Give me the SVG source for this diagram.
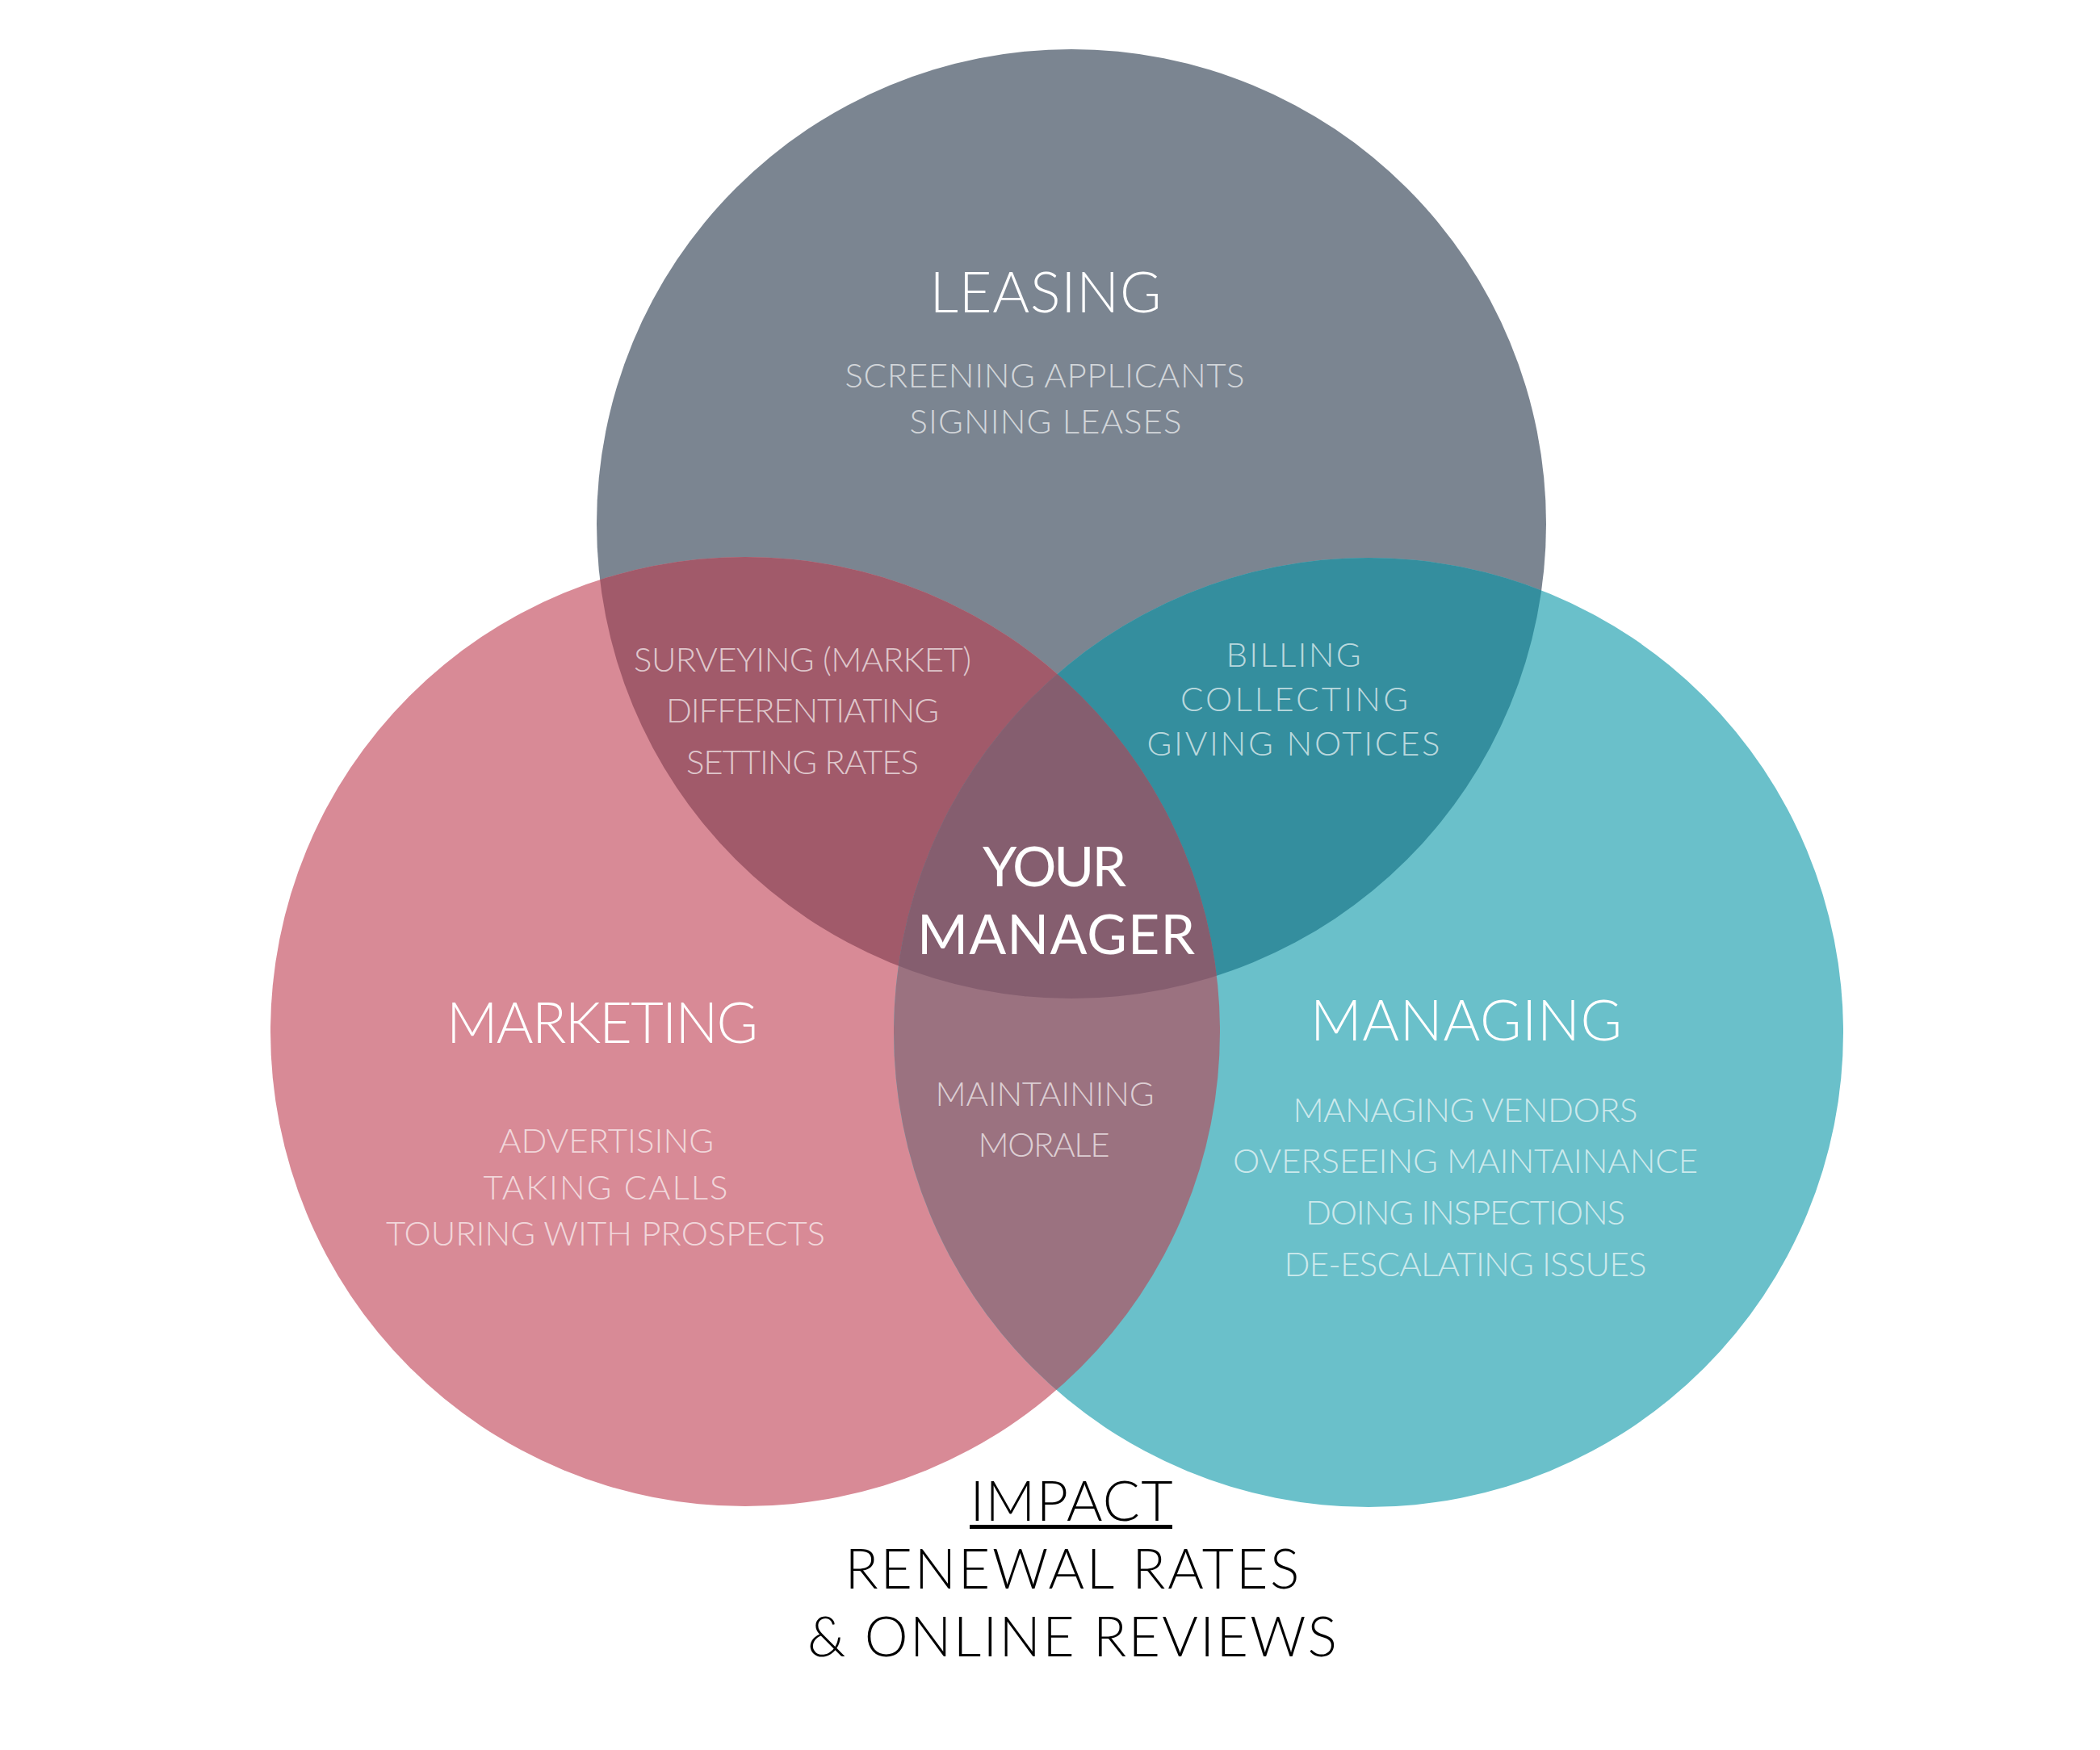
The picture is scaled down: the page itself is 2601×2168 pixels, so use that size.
<svg xmlns="http://www.w3.org/2000/svg" width="2601" height="2168" viewBox="0 0 2601 2168">
<defs>
<clipPath id="clipTop"><circle cx="1327" cy="649" r="588"/></clipPath>
<clipPath id="clipLeft"><circle cx="923" cy="1278" r="588"/></clipPath>
<style>
text{font-family:Lato,"Open Sans","DejaVu Sans",sans-serif;text-anchor:middle}
.head{fill:#ffffff;font-size:70px;font-weight:300}
.sub{fill:#ffffff;fill-opacity:0.68;font-size:42px;font-weight:300}
.core{fill:#ffffff;font-size:68px;font-weight:400}
.impact{fill:#000000;font-size:68px;font-weight:300}
</style>
</defs>
<rect width="2601" height="2168" fill="#ffffff"/>
<g id="circles">
<circle id="leasing-circle" cx="1327" cy="649" r="588" fill="#7b8591"/>
<circle id="marketing-circle" cx="923" cy="1278" r="588" fill="#d88a96"/>
<circle id="managing-circle" cx="1695" cy="1279" r="588" fill="#6ac0ca"/>
<circle cx="923" cy="1278" r="588" fill="#a15a6a" clip-path="url(#clipTop)"/>
<circle cx="1695" cy="1279" r="588" fill="#348e9e" clip-path="url(#clipTop)"/>
<circle cx="1695" cy="1279" r="588" fill="#9b7280" clip-path="url(#clipLeft)"/>
<g clip-path="url(#clipTop)"><circle cx="1695" cy="1279" r="588" fill="#855e6f" clip-path="url(#clipLeft)"/></g>
</g>
<g id="connectors"/>
<g id="leasing">
<text class="head" x="1295" y="387" textLength="287" lengthAdjust="spacing">LEASING</text>
<text class="sub" x="1294" y="480" textLength="495" lengthAdjust="spacing">SCREENING APPLICANTS</text>
<text class="sub" x="1295" y="537" textLength="337" lengthAdjust="spacing">SIGNING LEASES</text>
</g>
<g id="leasing-marketing">
<text class="sub" x="994" y="832" textLength="418" lengthAdjust="spacing">SURVEYING (MARKET)</text>
<text class="sub" x="994" y="895" textLength="338" lengthAdjust="spacing">DIFFERENTIATING</text>
<text class="sub" x="994" y="959" textLength="288" lengthAdjust="spacing">SETTING RATES</text>
</g>
<g id="leasing-managing">
<text class="sub" x="1602" y="826" textLength="167" lengthAdjust="spacing">BILLING</text>
<text class="sub" x="1603" y="881" textLength="282" lengthAdjust="spacing">COLLECTING</text>
<text class="sub" x="1602" y="936" textLength="363" lengthAdjust="spacing">GIVING NOTICES</text>
</g>
<g id="your-manager">
<text class="core" x="1306" y="1098" textLength="178" lengthAdjust="spacing">YOUR</text>
<text class="core" x="1308" y="1182" textLength="344" lengthAdjust="spacing">MANAGER</text>
</g>
<g id="marketing">
<text class="head" x="746" y="1292" textLength="386" lengthAdjust="spacing">MARKETING</text>
<text class="sub" x="751" y="1428" textLength="266" lengthAdjust="spacing">ADVERTISING</text>
<text class="sub" x="750" y="1486" textLength="303" lengthAdjust="spacing">TAKING CALLS</text>
<text class="sub" x="750" y="1543" textLength="544" lengthAdjust="spacing">TOURING WITH PROSPECTS</text>
</g>
<g id="managing">
<text class="head" x="1816" y="1289" textLength="386" lengthAdjust="spacing">MANAGING</text>
<text class="sub" x="1815" y="1390" textLength="427" lengthAdjust="spacing">MANAGING VENDORS</text>
<text class="sub" x="1815" y="1453" textLength="576" lengthAdjust="spacing">OVERSEEING MAINTAINANCE</text>
<text class="sub" x="1815" y="1517" textLength="396" lengthAdjust="spacing">DOING INSPECTIONS</text>
<text class="sub" x="1815" y="1581" textLength="449" lengthAdjust="spacing">DE-ESCALATING ISSUES</text>
</g>
<g id="marketing-managing">
<text class="sub" x="1294" y="1370" textLength="271" lengthAdjust="spacing">MAINTAINING</text>
<text class="sub" x="1293" y="1433" textLength="163" lengthAdjust="spacing">MORALE</text>
</g>
<g id="impact">
<text class="impact" x="1327" y="1884" textLength="251" lengthAdjust="spacing">IMPACT</text>
<rect x="1201" y="1889" width="251" height="5" fill="#000000"/>
<text class="impact" x="1328" y="1968" textLength="563" lengthAdjust="spacing">RENEWAL RATES</text>
<text class="impact" x="1328" y="2052" textLength="656" lengthAdjust="spacing">&amp; ONLINE REVIEWS</text>
</g>
</svg>
